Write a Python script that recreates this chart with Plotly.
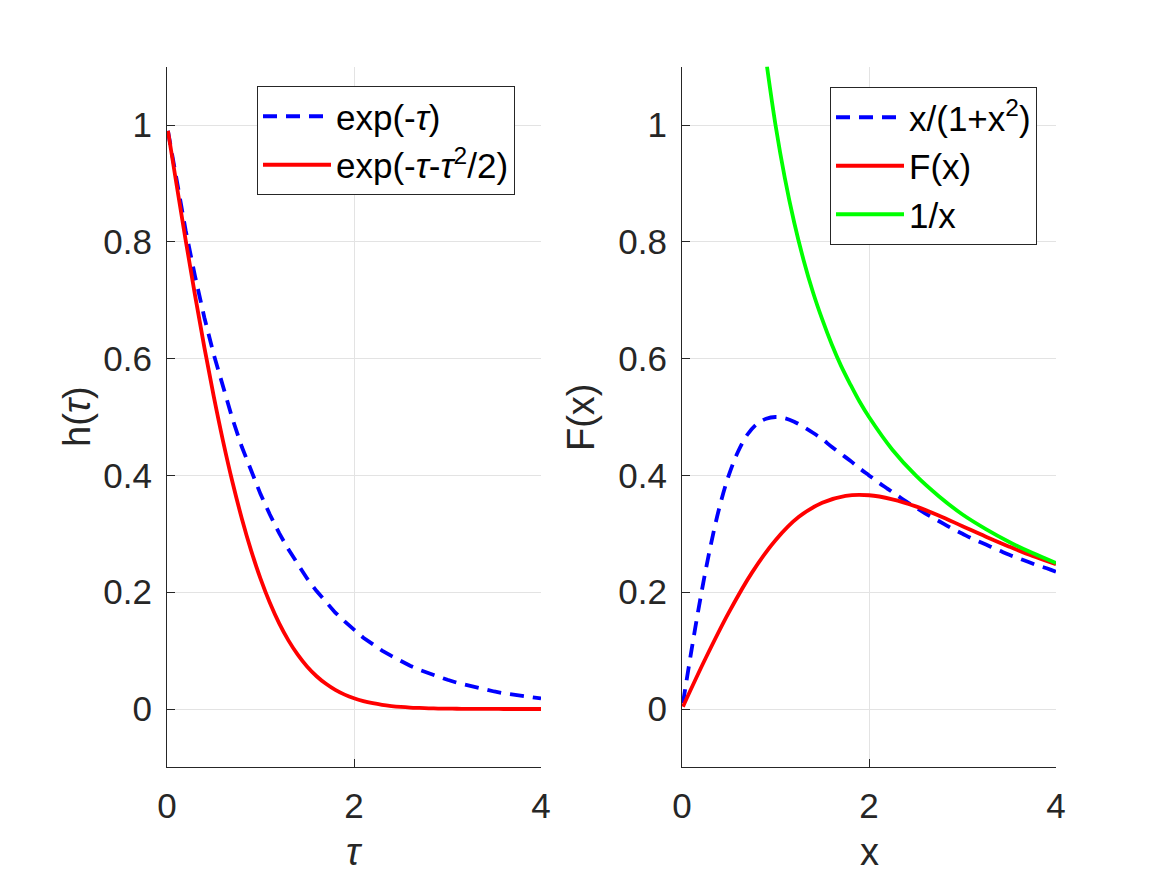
import plotly.graph_objects as go

# ---------------- data ----------------
tau = [0.01, 0.1, 0.2, 0.3, 0.4, 0.5, 0.6, 0.7, 0.8, 0.9, 1.0,
       1.1, 1.2, 1.3, 1.4, 1.5, 1.6, 1.7, 1.8, 1.9, 2.0,
       2.1, 2.2, 2.3, 2.4, 2.5, 2.6, 2.7, 2.8, 2.9, 3.0,
       3.1, 3.2, 3.3, 3.4, 3.5, 3.6, 3.7, 3.8, 3.9, 4.0]
h_exp = [0.990, 0.905, 0.819, 0.741, 0.670, 0.607, 0.549, 0.497, 0.449, 0.407, 0.368,
         0.333, 0.301, 0.273, 0.247, 0.223, 0.202, 0.183, 0.165, 0.150, 0.135,
         0.122, 0.111, 0.100, 0.091, 0.082, 0.074, 0.067, 0.061, 0.055, 0.050,
         0.045, 0.041, 0.037, 0.033, 0.030, 0.027, 0.025, 0.022, 0.020, 0.018]
h_gauss = [0.9900, 0.9003, 0.8025, 0.7082, 0.6188, 0.5353, 0.4584, 0.3887, 0.3263, 0.2712, 0.2231,
           0.1818, 0.1466, 0.1171, 0.0926, 0.0724, 0.0561, 0.0431, 0.0327, 0.0246, 0.0183,
           0.0135, 0.0099, 0.0071, 0.0051, 0.0036, 0.0025, 0.0018, 0.0012, 0.0008, 0.0006,
           0.0004, 0.0002, 0.0002, 0.0001, 0.0001, 0.0000, 0.0000, 0.0000, 0.0000, 0.0000]

x_lor = [0.01, 0.1, 0.2, 0.3, 0.4, 0.5, 0.6, 0.7, 0.8, 0.9, 1.0,
         1.1, 1.2, 1.3, 1.4, 1.5, 1.6, 1.7, 1.8, 1.9, 2.0,
         2.1, 2.2, 2.3, 2.4, 2.5, 2.6, 2.7, 2.8, 2.9, 3.0,
         3.1, 3.2, 3.3, 3.4, 3.5, 3.6, 3.7, 3.8, 3.9, 4.0]
y_lor = [0.010, 0.099, 0.192, 0.275, 0.345, 0.400, 0.441, 0.470, 0.488, 0.497, 0.500,
         0.498, 0.492, 0.483, 0.473, 0.462, 0.449, 0.437, 0.425, 0.412, 0.400,
         0.388, 0.377, 0.366, 0.355, 0.345, 0.335, 0.326, 0.317, 0.308, 0.300,
         0.292, 0.285, 0.278, 0.271, 0.264, 0.258, 0.252, 0.246, 0.241, 0.235]

x_F = [0.01, 0.25, 0.5, 0.75, 1.0, 1.25, 1.5, 1.75, 2.0, 2.25, 2.5,
       2.75, 3.0, 3.25, 3.5, 3.75, 4.0]
y_F = [0.004, 0.086, 0.165, 0.234, 0.289, 0.329, 0.353, 0.365, 0.366, 0.359, 0.347,
       0.331, 0.313, 0.295, 0.278, 0.262, 0.248]

x_inv = [0.909, 1.0, 1.1, 1.2, 1.3, 1.4, 1.5, 1.6, 1.7, 1.8, 1.9, 2.0,
         2.25, 2.5, 2.75, 3.0, 3.25, 3.5, 3.75, 4.0]
y_inv = [1.100, 1.000, 0.909, 0.833, 0.769, 0.714, 0.667, 0.625, 0.588, 0.556, 0.526, 0.500,
         0.444, 0.400, 0.364, 0.333, 0.308, 0.286, 0.267, 0.250]

x_ticks = [0, 2, 4]
x_ticklabels = ["0", "2", "4"]
y_ticks = [0, 0.2, 0.4, 0.6, 0.8, 1]
y_ticklabels = ["0", "0.2", "0.4", "0.6", "0.8", "1"]

# ---------------- figure ----------------
FONT = "Liberation Sans, Arial, Helvetica, sans-serif"
AX = "#262626"
W, H = 1167, 875
LW = 3.8
dash = "14px,9px"

fig = go.Figure()
fig.add_trace(go.Scatter(x=tau, y=h_exp, mode="lines", name="exp(-<i>τ</i>)",
                         line=dict(color="#0000ff", width=LW, dash=dash),
                         xaxis="x", yaxis="y", legend="legend"))
fig.add_trace(go.Scatter(x=tau, y=h_gauss, mode="lines",
                         name="exp(-<i>τ</i>-<i>τ</i><sup>2</sup>/2)",
                         line=dict(color="#ff0000", width=LW), line_shape="spline",
                         xaxis="x", yaxis="y", legend="legend"))
fig.add_trace(go.Scatter(x=x_lor, y=y_lor, mode="lines", name="x/(1+x<sup>2</sup>)",
                         line=dict(color="#0000ff", width=LW, dash=dash), line_shape="spline",
                         xaxis="x2", yaxis="y2", legend="legend2"))
fig.add_trace(go.Scatter(x=x_F, y=y_F, mode="lines", name="F(x)",
                         line=dict(color="#ff0000", width=LW), line_shape="spline",
                         xaxis="x2", yaxis="y2", legend="legend2"))
fig.add_trace(go.Scatter(x=x_inv, y=y_inv, mode="lines", name="1/x",
                         line=dict(color="#00ff00", width=LW), line_shape="spline",
                         xaxis="x2", yaxis="y2", legend="legend2"))

ydom = [(H - 767.4) / H, (H - 66.6) / H]
axis_common = dict(showgrid=True, gridcolor="#e3e3e3", gridwidth=1,
                   showline=True, linecolor=AX, linewidth=1.2, mirror=False,
                   ticks="inside", ticklen=8, tickcolor=AX, tickwidth=1.2,
                   tickfont=dict(family=FONT, size=35, color=AX),
                   zeroline=False, fixedrange=True, automargin=False)
common_x = dict(range=[0, 4], tickvals=x_ticks, ticktext=x_ticklabels,
                ticklabelstandoff=7, **axis_common)
common_y = dict(range=[-0.1, 1.1], tickvals=y_ticks, ticktext=y_ticklabels,
                ticklabelstandoff=7, **axis_common)

legend_common = dict(bgcolor="white", bordercolor=AX, borderwidth=1,
                     font=dict(family=FONT, size=35, color="black"),
                     xanchor="left", yanchor="top", xref="paper", yref="paper",
                     tracegroupgap=0, itemwidth=68)

fig.update_layout(
    width=W, height=H, autosize=False,
    margin=dict(l=0, r=0, t=0, b=0, pad=0, autoexpand=False),
    paper_bgcolor="white", plot_bgcolor="white",
    showlegend=True,
    xaxis=dict(domain=[167 / W, 541 / W], anchor="y", **common_x),
    yaxis=dict(domain=ydom, anchor="x", **common_y),
    xaxis2=dict(domain=[682 / W, 1056 / W], anchor="y2", **common_x),
    yaxis2=dict(domain=ydom, anchor="x2", **common_y),
    legend=dict(x=257 / W, y=(H - 86) / H, **legend_common),
    legend2=dict(x=830 / W, y=(H - 87) / H, **legend_common),
    annotations=[
        dict(text="<i>τ</i>", x=354 / W, y=(H - 852) / H, xref="paper", yref="paper",
             showarrow=False, xanchor="center", yanchor="middle",
             font=dict(family=FONT, size=38, color=AX)),
        dict(text="x", x=869 / W, y=(H - 852) / H, xref="paper", yref="paper",
             showarrow=False, xanchor="center", yanchor="middle",
             font=dict(family=FONT, size=38, color=AX)),
        dict(text="h(<i>τ</i>)", x=77 / W, y=(H - 417) / H, xref="paper", yref="paper",
             showarrow=False, xanchor="center", yanchor="middle", textangle=-90,
             font=dict(family=FONT, size=38, color=AX)),
        dict(text="F(x)", x=581 / W, y=(H - 417) / H, xref="paper", yref="paper",
             showarrow=False, xanchor="center", yanchor="middle", textangle=-90,
             font=dict(family=FONT, size=38, color=AX)),
    ],
)

fig.write_html("out.html")
